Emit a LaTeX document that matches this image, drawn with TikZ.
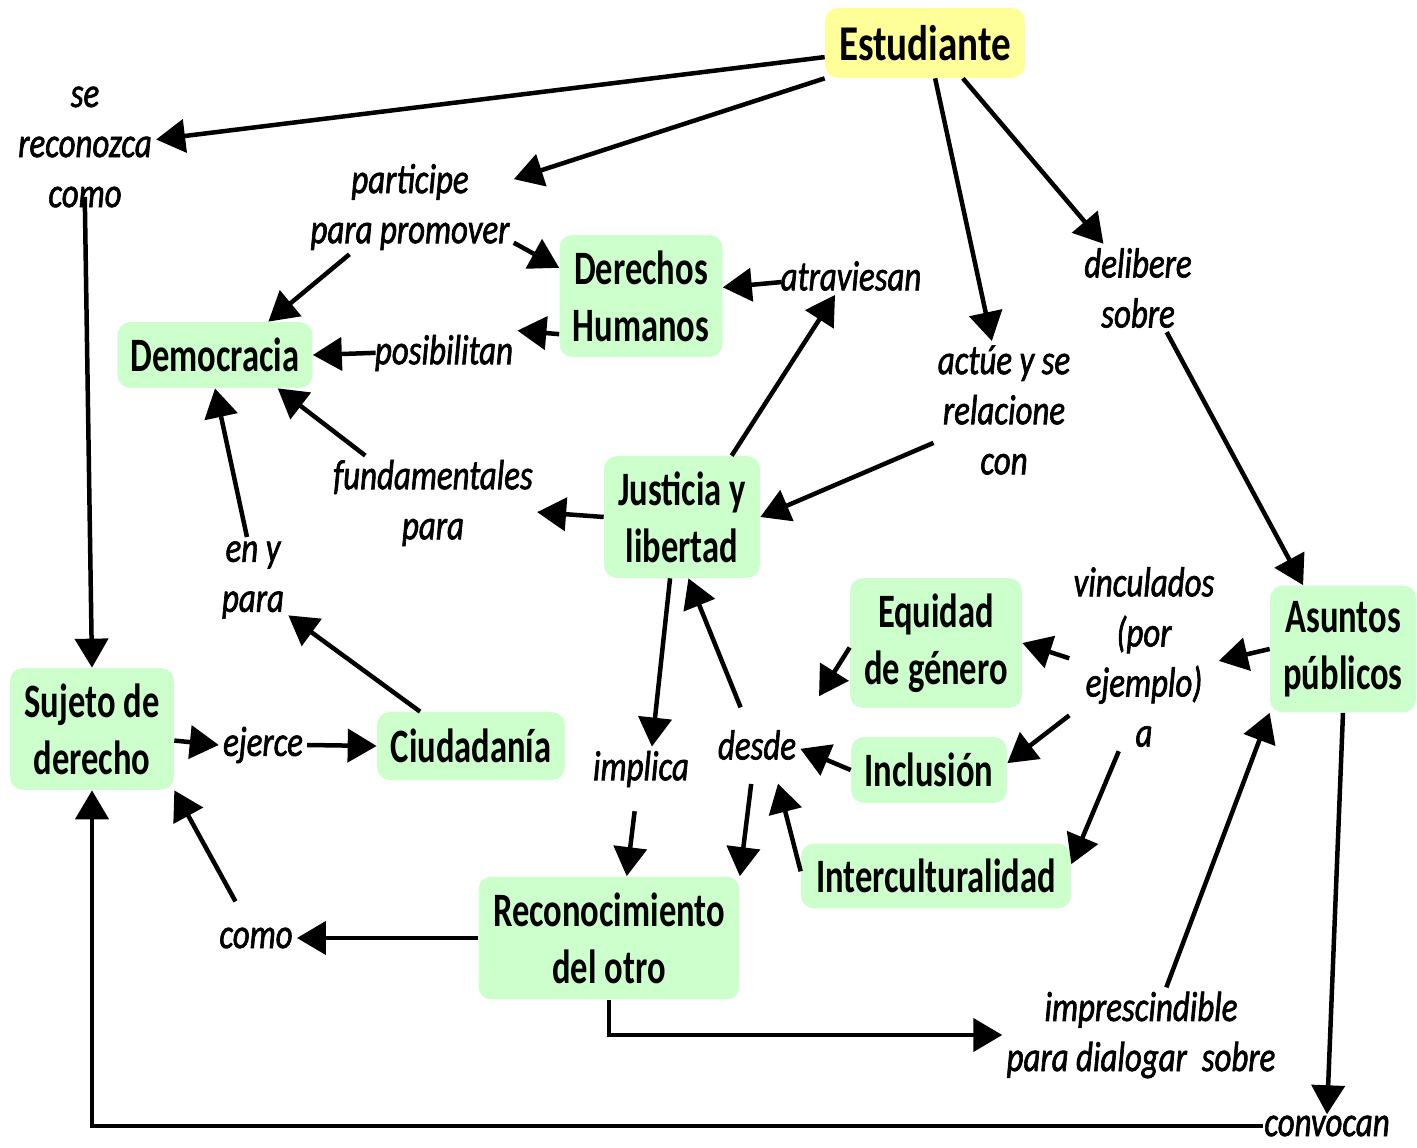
\documentclass[tikz,border=0pt]{standalone}
\usepackage{fontspec}
\usepackage{tikz}
\usetikzlibrary{arrows.meta,positioning,calc,shapes}
\newfontfamily\conceptfont{Carlito}[FakeStretch=0.72]
\newfontfamily\rootfont{Carlito}[FakeStretch=0.78]
\newfontfamily\linkfont{Carlito}[FakeStretch=0.78,FakeBold=1.5]
\definecolor{conceptgreen}{RGB}{204,255,204}
\definecolor{conceptyellow}{RGB}{255,255,153}
\tikzset{concept/.style={rectangle,rounded corners=0.26cm,fill=conceptgreen,align=center,inner sep=2pt,
		font=\conceptfont\bfseries\fontsize{27.3}{32.4}\selectfont}}
\tikzset{boxsize/.style 2 args={minimum width=#1cm,minimum height=#2cm}}
\tikzset{linklabel/.style={align=center,inner sep=0.08cm,
		font=\linkfont\itshape\fontsize{24}{28.5}\selectfont}}
\tikzset{link/.style={-{Triangle[length=0.58cm,width=0.66cm]},line width=0.09cm}}

\begin{document}
\begin{tikzpicture}[x=0.02cm,y=-0.02cm]
			\useasboundingbox (0,0) rectangle (1417,1148);

			% concepts
			\node[concept,boxsize={4.0}{1.4},fill=conceptyellow,font=\rootfont\bfseries\fontsize{28.5}{33}\selectfont] (est) at (925,43) {Estudiante};
			\node[concept,boxsize={3.26}{2.44}] (dh) at (641,296) {Derechos\\Humanos};
			\node[concept,boxsize={3.9}{1.32}] (dem) at (215,355) {Democracia};
			\node[concept,boxsize={3.12}{2.44}] (jus) at (682,517) {Justicia y\\libertad};
			\node[concept,boxsize={3.28}{2.44}] (suj) at (92,729) {Sujeto de\\derecho};
			\node[concept,boxsize={3.76}{1.36}] (ciu) at (471,746) {Ciudadanía};
			\node[concept,boxsize={3.44}{2.6}] (equ) at (936,643) {Equidad\\de género};
			\node[concept,boxsize={3.12}{1.32}] (inc) at (929,770) {Inclusión};
			\node[concept,boxsize={5.4}{1.3}] (int) at (936,876) {Interculturalidad};
			\node[concept,boxsize={5.22}{2.46}] (rec) at (609,938) {Reconocimiento\\del otro};
			\node[concept,boxsize={2.92}{2.54}] (asu) at (1343,649) {Asuntos\\públicos};

			% linking words
			\node[linklabel] (recon) at (85,147) {se\\reconozca\\como};
			\node[linklabel] (part) at (410,207) {participe\\para promover};
			\node[linklabel] (atr) at (851,276) {atraviesan};
			\node[linklabel] (pos) at (444,353) {posibilitan};
			\node[linklabel] (del) at (1138,288) {delibere\\sobre};
			\node[linklabel] (act) at (1004,410) {actúe y se\\relacione\\con};
			\node[linklabel] (fund) at (433,503) {fundamentales\\para};
			\node[linklabel] (eny) at (253,580) {en y\\para};
			\node[linklabel] (vinc) at (1144,657) {vinculados\\(por\\ejemplo)\\a};
			\node[linklabel] (ejer) at (263,745) {ejerce};
			\node[linklabel] (impl) at (641,769) {implica};
			\node[linklabel] (desde) at (757,745) {desde};
			\node[linklabel] (como) at (256,938) {como};
			\node[linklabel] (impr) at (1141,1035) {imprescindible\\para dialogar\ \ sobre};
			\node[linklabel,inner sep=0.02cm] (conv) at (1327,1126) {convocan};

			% connectors
			\draw[link] (est.188) -- (recon.6);
			\draw[link] (est.south west) -- (part.15);
			\draw[link] (est.-74) -- (act.100);
			\draw[link] (est.-43) -- (del.128);
			\draw[link,shorten <=-0.3cm] (recon.south) -- (suj.north);
			\draw[link] (part.218) -- (dem.32);
			\draw[link] (part.-19) -- (dh.161);
			\draw[link] (dh.205) -- (pos.north east);
			\draw[link,shorten <=-0.1cm] (pos.west) -- (dem.east);
			\draw[link,shorten <=-0.1cm] (atr.185) -- (dh.6);
			\draw[link] (jus.51) -- (atr.230);
			\draw[link] (act.205) -- (jus.east);
			\draw[link] (del.-57) -- (asu.122);
			\draw[link] (fund.145) -- (dem.-28);
			\draw[link] (jus.west) -- (fund.-5);
			\draw[link] (eny.98) -- (dem.south);
			\draw[link] (ciu.146) -- (eny.-45);
			\draw[link] (suj.-8) -- (ejer.west);
			\draw[link] (ejer.east) -- (ciu.west);
			\draw[link] (jus.-101) -- (impl.64);
			\draw[link,shorten <=0.4cm] (impl.-100) -- (rec.74);
			\draw[link,shorten <=0.4cm] (desde.115) -- (jus.-84);
			\draw[link,shorten <=0.4cm] (desde.-100) -- (rec.north east);
			\draw[link,shorten >=0.4cm] (int.178) -- (desde.-50);
			\draw[link] (inc.west) -- (desde.-5);
			\draw[link,shorten >=0.7cm] (equ.183) -- (desde.north east);
			\draw[link] (vinc.181) -- (equ.east);
			\draw[link] (asu.west) -- (vinc.-3);
			\draw[link] (vinc.218) -- (inc.5);
			\draw[link] (vinc.-105) -- (int.5);
			\draw[link] (impr.62) -- (asu.south west);
			\draw[link] (rec.south) |- (impr.west);
			\draw[link] (rec.west) -- (como.east);
			\draw[link,shorten <=0.5cm] (como.120) -- (suj.south east);
			\draw[link] (asu.south) -- (conv.north);
			\draw[link] (conv.west) -| (suj.south);
\end{tikzpicture}
\end{document}
